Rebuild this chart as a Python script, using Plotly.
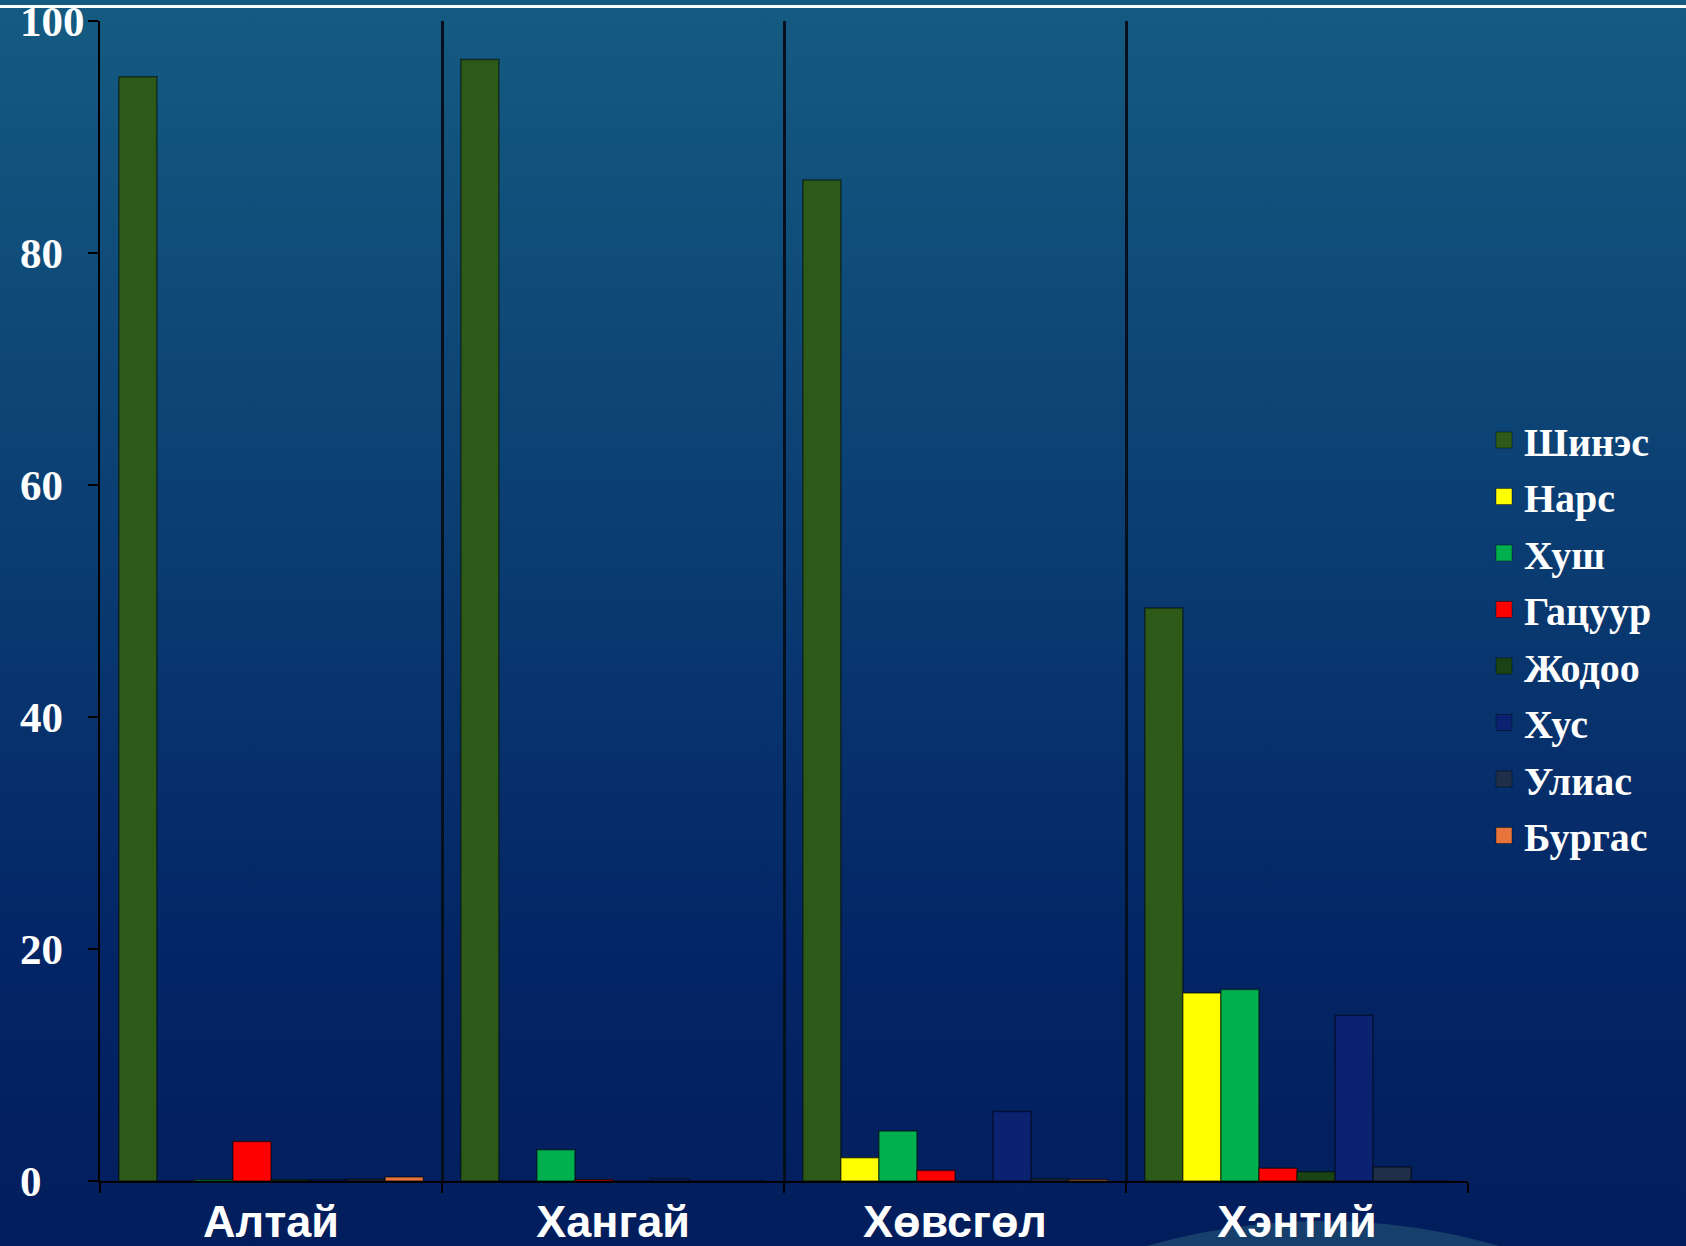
import base64
import plotly.graph_objects as go

# Forest composition by mountain region, % of stand
regions = ["Алтай", "Хангай", "Хөвсгөл", "Хэнтий"]

shines = [95.2, 96.7, 86.3, 49.4]
nars = [0.0, 0.0, 2.0, 16.2]
khush = [0.1, 2.7, 4.3, 16.5]
gatsuur = [3.4, 0.1, 0.9, 1.1]
jodoo = [0.1, 0.0, 0.0, 0.8]
khus = [0.1, 0.2, 6.0, 14.3]
ulias = [0.15, 0.0, 0.2, 1.2]
burgas = [0.35, 0.0, 0.1, 0.0]

species = ["Шинэс", "Нарс", "Хуш", "Гацуур", "Жодоо", "Хус", "Улиас", "Бургас"]
values = [shines, nars, khush, gatsuur, jodoo, khus, ulias, burgas]
colors = ["#2d5a18", "#ffff00", "#00b04f", "#ff0000",
          "#1b4416", "#0b2270", "#1f2f4a", "#e8743b"]

y_ticks = [0, 20, 40, 60, 80, 100]
# labels are left-aligned in their column: pad shorter numbers on the right
NB = "\u00a0"
y_labels = [str(v) + NB * (2 * (3 - len(str(v)))) for v in y_ticks]

W, H = 1686, 1246
L, R, T, B = 100, 218, 21, 65
pw, ph = W - L - R, H - T - B


def px_x(v):
    return (v - L) / pw


def px_y(v):
    return (H - B - v) / ph


fig = go.Figure()

for name, vals, col in zip(species, values, colors):
    fig.add_trace(go.Bar(
        x=regions, y=vals, name=name, legendgroup=name, showlegend=False,
        marker=dict(color=col, line=dict(color="rgba(0,0,0,0.5)", width=1.5)),
    ))
    # square swatch for the legend
    fig.add_trace(go.Scatter(
        x=[None], y=[None], name=name, legendgroup=name, mode="markers",
        marker=dict(symbol="square", size=16, color=col,
                    line=dict(color="rgba(0,0,0,0.4)", width=1)),
    ))

# slide background gradient
svg = (
    f'<svg xmlns="http://www.w3.org/2000/svg" width="{W}" height="{H}" '
    f'viewBox="0 0 {W} {H}" preserveAspectRatio="none">'
    '<defs><linearGradient id="g" x1="0" y1="0" x2="0" y2="1">'
    '<stop offset="0" stop-color="#155b81"/>'
    '<stop offset="0.4" stop-color="#0b3f73"/>'
    '<stop offset="0.75" stop-color="#042666"/>'
    '<stop offset="1" stop-color="#021d5c"/>'
    '</linearGradient></defs>'
    f'<rect width="{W}" height="{H}" fill="url(#g)"/></svg>'
)
bg_uri = "data:image/svg+xml;base64," + base64.b64encode(svg.encode()).decode()

fig.add_layout_image(
    source=bg_uri, xref="paper", yref="paper",
    x=px_x(0), y=px_y(0), sizex=W / pw, sizey=H / ph,
    xanchor="left", yanchor="top", sizing="stretch", layer="below",
)

shapes = [
    # decorative disc rising from the bottom edge
    dict(type="circle", xref="paper", yref="paper",
         x0=px_x(1323 - 636), x1=px_x(1323 + 636),
         y0=px_y(1221), y1=px_y(1221 + 2 * 636),
         fillcolor="#173f6c", line=dict(width=0), layer="below"),
    # thin rule across the top
    dict(type="line", xref="paper", yref="paper",
         x0=px_x(0), x1=px_x(W), y0=px_y(6.5), y1=px_y(6.5),
         line=dict(color="white", width=3), layer="below"),
]

fig.update_layout(
    width=W, height=H,
    margin=dict(l=L, r=R, t=T, b=B, pad=0, autoexpand=False),
    paper_bgcolor="#021d5c",
    plot_bgcolor="rgba(0,0,0,0)",
    barmode="group", bargap=0.11, bargroupgap=0,
    shapes=shapes,
    showlegend=True,
    legend=dict(
        x=px_x(1484), y=px_y(638), xanchor="left", yanchor="middle",
        traceorder="grouped", tracegroupgap=1.5,
        bgcolor="rgba(0,0,0,0)", borderwidth=0,
        font=dict(family="Liberation Serif, Times New Roman, serif",
                  size=40, color="white", weight="bold"),
    ),
)

fig.update_xaxes(
    type="category", tickson="boundaries", automargin=False,
    showline=True, linecolor="black", linewidth=2,
    showgrid=True, gridcolor="#05101e", gridwidth=2.5,
    ticks="outside", ticklen=10, tickcolor="black", tickwidth=2,
    tickfont=dict(family="Liberation Sans, Arial, sans-serif", size=45,
                  color="white", weight="bold"),
    ticklabelstandoff=0,
)

fig.update_yaxes(
    range=[0, 100.01], tickvals=y_ticks, ticktext=y_labels, automargin=False,
    ticklabeloverflow="allow",
    showline=True, linecolor="black", linewidth=2,
    showgrid=False, zeroline=False,
    ticks="outside", ticklen=10, tickcolor="black", tickwidth=2,
    tickfont=dict(family="Liberation Serif, Times New Roman, serif", size=43,
                  color="white", weight="bold"),
    ticklabelstandoff=-5,
)

fig.write_html("out.html")
